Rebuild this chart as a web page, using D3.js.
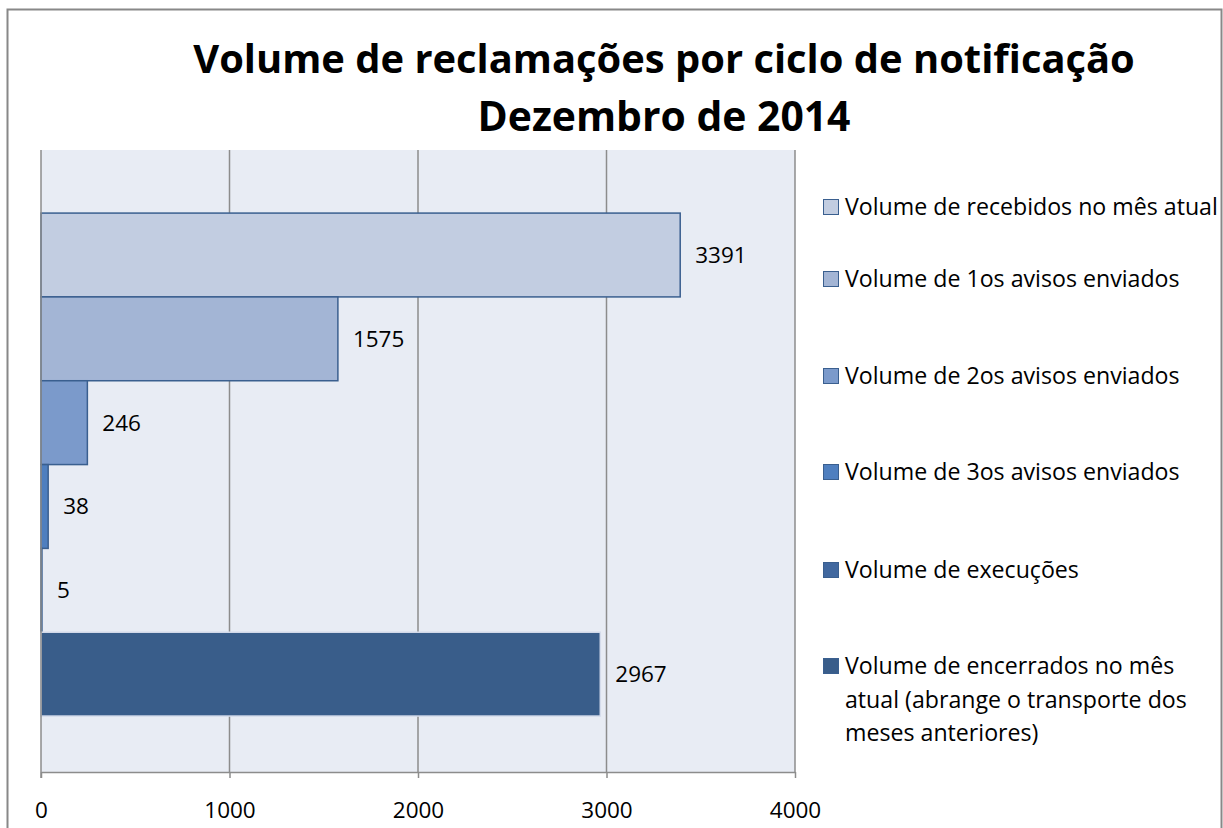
<!DOCTYPE html>
<html>
<head>
<meta charset="utf-8">
<script src="https://cdn.jsdelivr.net/npm/d3@7"></script>
<style>
  body { margin: 0; background: #fff; }
  svg text { font-family: "Open Sans", "Noto Sans", sans-serif; fill: #000; }
</style>
</head>
<body>
<div id="chart"></div>
<script>
// data
var series = [
  "Volume de recebidos no mês atual",
  "Volume de 1os avisos enviados",
  "Volume de 2os avisos enviados",
  "Volume de 3os avisos enviados",
  "Volume de execuções",
  "Volume de encerrados no mês atual (abrange o transporte dos meses anteriores)"
];
var values = [3391, 1575, 246, 38, 5, 2967];
var xTicks = [0, 1000, 2000, 3000, 4000];
var titleLines = ["Volume de reclamações por ciclo de notificação", "Dezembro de 2014"];
var legendLines = [
  ["Volume de recebidos no mês atual"],
  ["Volume de 1os avisos enviados"],
  ["Volume de 2os avisos enviados"],
  ["Volume de 3os avisos enviados"],
  ["Volume de execuções"],
  ["Volume de encerrados no mês", "atual (abrange o transporte dos", "meses anteriores)"]
];

var fills = ["#c2cde1", "#a3b5d5", "#7b9acb", "#4f7fbf", "#41689f", "#395d8a"];
var strokes = ["#3a5f8f", "#3a5f8f", "#3a5f8f", "#3a5f8f", "#3a5f8f", "#d5dceb"];

var W = 1223, H = 828;
var margin = {top: 150, left: 41, right: 428, bottom: 56};
var plotW = W - margin.left - margin.right,
    plotH = H - margin.top - margin.bottom;

var svg = d3.select("#chart").append("svg")
    .attr("width", W).attr("height", H);

// outer chart border
svg.append("rect")
    .attr("x", 7.5).attr("y", 9.5)
    .attr("width", W - 9).attr("height", H)
    .attr("fill", "#fff").attr("stroke", "#888").attr("stroke-width", 2);

// title, scaled to the widths in the original
var title = svg.append("g");
var tSizes = [942, 373];
title.selectAll("text").data(titleLines).enter().append("text")
    .attr("x", 664)
    .attr("y", function(d, i) { return 73 + i * 58; })
    .attr("text-anchor", "middle")
    .style("font-weight", "bold")
    .style("font-size", "40px")
    .text(function(d) { return d; })
    .each(function(d, i) {
      var len = this.getComputedTextLength();
      d3.select(this).style("font-size", (40 * tSizes[i] / len) + "px");
    });

var g = svg.append("g")
    .attr("transform", "translate(" + margin.left + "," + margin.top + ")");

var x = d3.scaleLinear().domain([0, 4000]).range([0, plotW]);
var y = d3.scaleBand().domain(series).range([0, plotH])
    .paddingInner(0).paddingOuter(0.71).align(0.53);

g.append("rect")
    .attr("width", plotW).attr("height", plotH)
    .attr("fill", "#e8ecf4");

// gridlines
g.selectAll(".grid").data(xTicks.slice(1)).enter().append("line")
    .attr("x1", function(d) { return x(d); }).attr("x2", function(d) { return x(d); })
    .attr("y1", 0).attr("y2", plotH)
    .attr("stroke", "#8c8c8c").attr("stroke-width", 1.5);

// bars
g.selectAll(".bar").data(values).enter().append("rect")
    .attr("class", "bar")
    .attr("x", 0)
    .attr("y", function(d, i) { return y(series[i]); })
    .attr("width", function(d) { return Math.max(x(d), 0.5); })
    .attr("height", y.bandwidth())
    .attr("fill", function(d, i) { return fills[i]; })
    .attr("stroke", function(d, i) { return strokes[i]; })
    .attr("stroke-width", 1.5);

// value labels
g.selectAll(".lbl").data(values).enter().append("text")
    .attr("x", function(d) { return x(d) + 15; })
    .attr("y", function(d, i) { return y(series[i]) + y.bandwidth() / 2; })
    .attr("dy", "0.35em")
    .style("font-size", "22.5px")
    .text(function(d) { return d; });

// left axis line
g.append("line")
    .attr("x1", 0).attr("x2", 0).attr("y1", 0).attr("y2", plotH + 6)
    .attr("stroke", "#8c8c8c").attr("stroke-width", 1.5);

// bottom axis
g.append("g")
    .attr("transform", "translate(0," + plotH + ")")
    .call(d3.axisBottom(x).tickValues(xTicks).tickFormat(d3.format("d")).tickSize(6).tickSizeOuter(0).tickPadding(24))
    .call(function(a) { a.select(".domain").attr("stroke", "#8c8c8c").attr("stroke-width", 1.5); })
    .call(function(a) { a.selectAll(".tick line").attr("stroke", "#8c8c8c").attr("stroke-width", 1.5); })
    .call(function(a) { a.selectAll(".tick text").style("font-size", "22.5px").style("font-family", "'Open Sans', sans-serif").attr("fill", "#000"); });

// legend
var legendY = [207, 279, 376, 472, 570, 666];
var leg = svg.append("g").selectAll("g").data(legendLines).enter().append("g")
    .attr("transform", function(d, i) { return "translate(823," + legendY[i] + ")"; });
leg.append("rect")
    .attr("x", 0.5).attr("y", -7.5).attr("width", 15).attr("height", 15)
    .attr("fill", function(d, i) { return fills[i]; })
    .attr("stroke", "#3a5f8f").attr("stroke-width", 1);
var legText = leg.selectAll("text").data(function(d) { return d; }).enter().append("text")
    .attr("x", 22)
    .attr("y", function(d, j) { return j * 33.5; })
    .attr("dy", "0.35em")
    .style("font-size", "20px")
    .text(function(d) { return d; });
// fit the first legend line to its width in the original (373px)
var firstLen = legText.node().getComputedTextLength();
legText.style("font-size", (20 * 373 / firstLen) + "px");
</script>
</body>
</html>
